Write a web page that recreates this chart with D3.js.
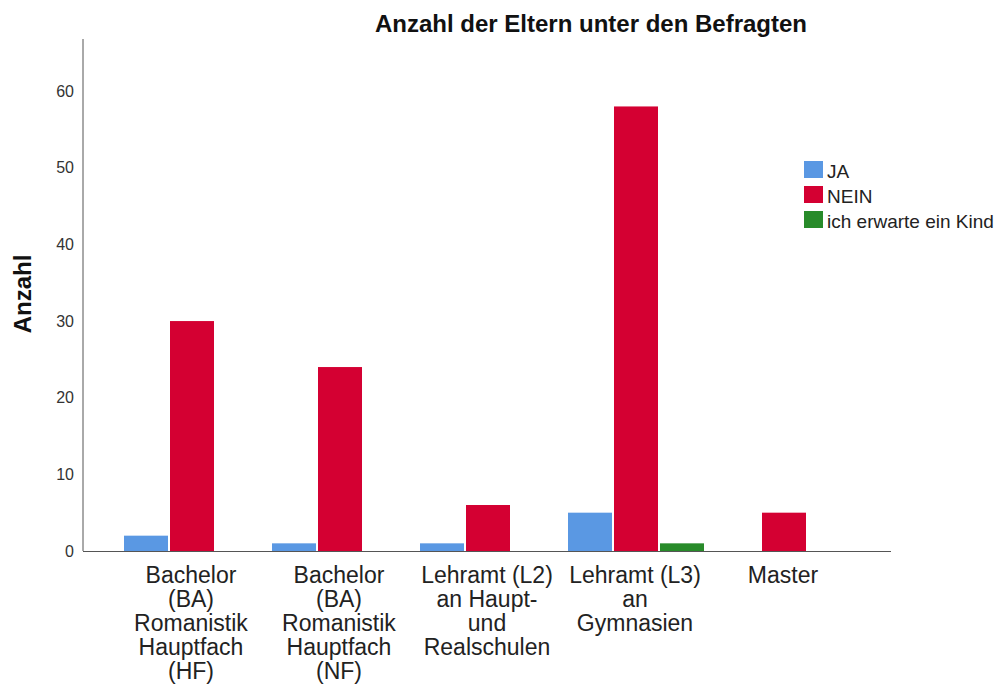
<!DOCTYPE html>
<meta charset="utf-8">
<style>
body { margin: 0; background: #fff; }
svg text { font-family: "Liberation Sans", Arial, sans-serif; }
</style>
<svg width="1002" height="687"></svg>
<script src="https://d3js.org/d3.v7.min.js"></script>
<script>

// categories (x axis labels, already broken into lines as in the chart)
var categories = [
  ["Bachelor", "(BA)", "Romanistik", "Hauptfach", "(HF)"],
  ["Bachelor", "(BA)", "Romanistik", "Hauptfach", "(NF)"],
  ["Lehramt (L2)", "an Haupt-", "und", "Realschulen"],
  ["Lehramt (L3)", "an", "Gymnasien"],
  ["Master"]
]
var series = ["JA", "NEIN", "ich erwarte ein Kind"]
var colors = ["#5A98E3", "#D40032", "#288B2A"]

// counts per category
var ja = [2, 1, 1, 5, 0]
var nein = [30, 24, 6, 58, 5]
var kind = [0, 0, 0, 1, 0]

var yTicks = [0, 10, 20, 30, 40, 50, 60]

var svg = d3.select("svg")

var x0 = d3.scaleBand().domain(d3.range(categories.length)).range([119, 859])
var x1 = d3.scaleBand().domain(series).range([5, 143])
var y = d3.scaleLinear().domain([0, 66.8]).range([551, 39])

// title
svg.append("text")
  .attr("x", 591)
  .attr("y", 32)
  .attr("text-anchor", "middle")
  .style("font-size", "24px")
  .style("font-weight", "bold")
  .attr("fill", "#111")
  .text("Anzahl der Eltern unter den Befragten")

// y label
svg.append("text")
  .attr("transform", "translate(31,294)rotate(-90)")
  .attr("text-anchor", "middle")
  .style("font-size", "24px")
  .style("font-weight", "bold")
  .attr("fill", "#111")
  .text("Anzahl")

// y axis
var yAxis = svg.append("g")
  .attr("transform", "translate(83,0)")
  .call(d3.axisLeft(y).tickValues(yTicks).tickSize(0).tickPadding(9))
yAxis.select(".domain").attr("stroke", "#555").attr("d", "M0," + y(66.8) + "V" + y(0))
yAxis.selectAll("text").style("font-size", "16px").attr("fill", "#333")

// bars
var rows = []
for (var i = 0; i < categories.length; i++) {
  var vals = [ja[i], nein[i], kind[i]]
  for (var s = 0; s < series.length; s++) {
    if (vals[s] > 0) rows.push({cat: i, key: series[s], color: colors[s], value: vals[s]})
  }
}

svg.append("g")
  .selectAll("rect")
  .data(rows)
  .enter()
  .append("rect")
  .attr("x", function(d) { return x0(d.cat) + x1(d.key) })
  .attr("width", x1.bandwidth() - 2)
  .attr("y", function(d) { return y(d.value) })
  .attr("height", function(d) { return y(0) - y(d.value) })
  .attr("fill", function(d) { return d.color })

// x axis line
svg.append("line")
  .attr("x1", 83).attr("x2", 891)
  .attr("y1", y(0) + 0.5).attr("y2", y(0) + 0.5)
  .attr("stroke", "#555")

// category labels
var lab = svg.append("g").selectAll("text")
  .data(categories)
  .enter()
  .append("text")
  .attr("text-anchor", "middle")
  .style("font-size", "23px")
  .attr("fill", "#222")

lab.selectAll("tspan")
  .data(function(d, i) { return d.map(function(t) { return {t: t, i: i} }) })
  .enter()
  .append("tspan")
  .attr("x", function(d) { return x0(d.i) + x0.bandwidth() / 2 - 2 })
  .attr("y", function(d, j) { return 583 + j * 24 })
  .text(function(d) { return d.t })

// legend
var leg = svg.append("g").selectAll("g")
  .data(series)
  .enter()
  .append("g")
  .attr("transform", function(d, i) { return "translate(804," + (161 + i * 25) + ")" })

leg.append("rect")
  .attr("width", 19).attr("height", 17)
  .attr("fill", function(d, i) { return colors[i] })

leg.append("text")
  .attr("x", 23)
  .attr("y", 17)
  .style("font-size", "19px")
  .attr("fill", "#222")
  .text(function(d) { return d })

</script>
